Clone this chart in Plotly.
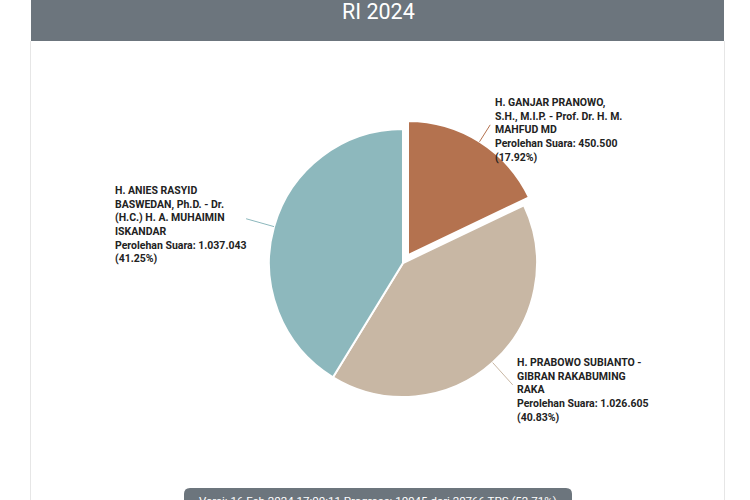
import math
import plotly.graph_objects as go

# ---- data ----
names = [
    "H. GANJAR PRANOWO,<br>S.H., M.I.P. - Prof. Dr. H. M.<br>MAHFUD MD",
    "H. PRABOWO SUBIANTO -<br>GIBRAN RAKABUMING<br>RAKA",
    "H. ANIES RASYID<br>BASWEDAN, Ph.D. - Dr.<br>(H.C.) H. A. MUHAIMIN<br>ISKANDAR",
]
votes = [450500, 1026605, 1037043]
vote_labels = ["450.500", "1.026.605", "1.037.043"]
pct_labels = ["17.92%", "40.83%", "41.25%"]
colors = ["#b4724f", "#c8b7a4", "#8db8bd"]
pulls = [0.07, 0, 0]
title_text = "RI 2024"
footer_text = "Versi: 16 Feb 2024 17:00:11 Progress: 10945 dari 20766 TPS (52.71%)"

# ---- geometry (pixels) ----
W, H = 750, 500
cx, cy, R = 403, 263, 134
maxpull = max(pulls)
S = 2 * R * (1 + maxpull)

def px(x):
    return x / W

def py(y):
    return 1 - y / H

fig = go.Figure(go.Pie(
    values=votes,
    sort=False,
    direction="clockwise",
    rotation=0,
    pull=pulls,
    marker=dict(colors=colors, line=dict(color="white", width=2)),
    textinfo="none",
    hoverinfo="none",
    domain=dict(x=[px(cx - S / 2), px(cx + S / 2)], y=[py(cy + S / 2), py(cy - S / 2)]),
    showlegend=False,
))

shapes = []
annotations = []

# header bar
shapes.append(dict(type="rect", xref="paper", yref="paper", x0=px(31), x1=px(724),
                   y0=py(41), y1=1.05, fillcolor="#6c757d", line=dict(width=0), layer="below"))
# card borders
for xx in (30.5, 724.5):
    shapes.append(dict(type="line", xref="paper", yref="paper", x0=px(xx), x1=px(xx),
                       y0=py(41), y1=-0.05, line=dict(color="#e6e6e6", width=1)))
annotations.append(dict(text=title_text, xref="paper", yref="paper", x=px(378), y=py(11),
                        xanchor="center", yanchor="middle", showarrow=False,
                        font=dict(family="Roboto", size=21.5, color="white")))

# leader lines + labels
total = sum(votes)
label_pos = [(493, 93.5), (515, 353.5), (113, 181.5)]
line_len = [20, 30, 29]
cum = 0
for i, v in enumerate(votes):
    mid = (cum + v / 2) / total * 2 * math.pi
    cum += v
    dx, dy = math.sin(mid), -math.cos(mid)
    r0 = R * (1 + pulls[i])
    x0, y0 = cx + r0 * dx, cy + r0 * dy
    x1, y1 = x0 + line_len[i] * dx, y0 + line_len[i] * dy
    shapes.append(dict(type="line", xref="paper", yref="paper", x0=px(x0), y0=py(y0),
                       x1=px(x1), y1=py(y1), line=dict(color=colors[i], width=1)))
    txt = "<b>" + names[i] + "<br>Perolehan Suara: " + vote_labels[i] + "<br>(" + pct_labels[i] + ")</b>"
    lx, ly = label_pos[i]
    annotations.append(dict(text=txt, xref="paper", yref="paper", x=px(lx), y=py(ly),
                            xanchor="left", yanchor="top", align="left", showarrow=False,
                            font=dict(family="Roboto", size=10.5, color="#222222")))

# footer box (rounded top corners), partly cut off like the reference
bx0, bx1, by0, by1, rr = 184, 572, 488, 530, 6
path = (f"M {px(bx0)},{py(by1)} L {px(bx0)},{py(by0 + rr)} "
        f"Q {px(bx0)},{py(by0)} {px(bx0 + rr)},{py(by0)} "
        f"L {px(bx1 - rr)},{py(by0)} Q {px(bx1)},{py(by0)} {px(bx1)},{py(by0 + rr)} "
        f"L {px(bx1)},{py(by1)} Z")
shapes.append(dict(type="path", xref="paper", yref="paper", path=path,
                   fillcolor="#6c757d", line=dict(width=0)))
annotations.append(dict(text=footer_text, xref="paper", yref="paper", x=px(378), y=py(501),
                        xanchor="center", yanchor="middle", showarrow=False,
                        font=dict(family="Roboto", size=11.5, color="white")))

fig.update_layout(
    width=W, height=H,
    margin=dict(l=0, r=0, t=0, b=0),
    paper_bgcolor="white",
    plot_bgcolor="white",
    shapes=shapes,
    annotations=annotations,
)

fig.write_html("out.html")
